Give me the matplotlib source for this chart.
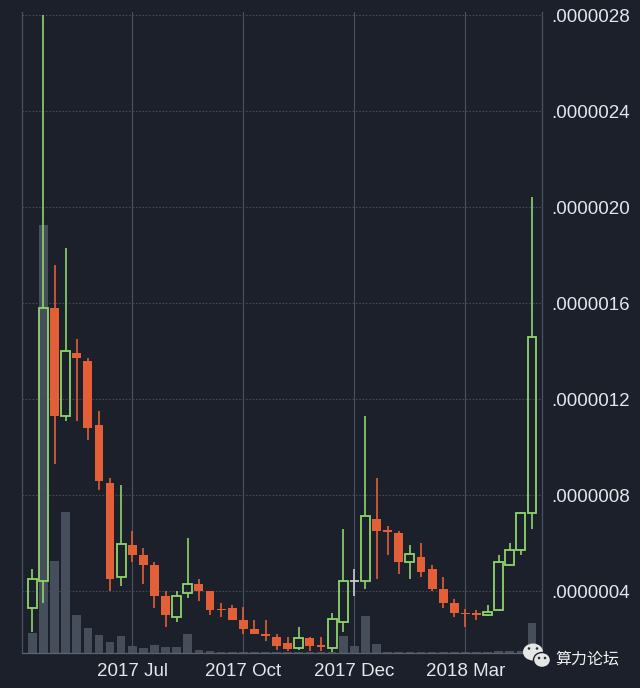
import matplotlib
matplotlib.use("Agg")
import matplotlib.pyplot as plt
from matplotlib.patches import Ellipse
import numpy as np

## price in units of 1e-7, weekly candles
opens  = [3.3, 4.4, 15.8, 11.3, 13.9, 13.6, 10.9, 8.5, 4.6, 5.9,
          5.5, 5.1, 3.8, 2.9, 3.9, 4.3, 4.0, 3.25, 3.3, 2.8,
          2.43, 2.2, 2.1, 1.82, 1.61, 2.03, 1.72, 1.61, 2.7, 4.42,
          4.4, 7.0, 6.55, 6.4, 5.2, 5.4, 4.9, 4.1, 3.5, 3.1,
          3.07, 3.0, 3.2, 5.08, 5.7, 7.24]
closes = [4.5, 15.8, 11.3, 14.0, 13.7, 10.8, 8.6, 4.5, 5.95, 5.5,
          5.1, 3.8, 3.0, 3.8, 4.3, 4.0, 3.2, 3.2, 2.8, 2.4,
          2.22, 2.13, 1.72, 1.57, 2.03, 1.72, 1.66, 2.82, 4.4, 4.42,
          7.13, 6.5, 6.47, 5.2, 5.53, 4.78, 4.1, 3.5, 3.1, 3.03,
          3.01, 3.12, 5.22, 5.7, 7.24, 14.6]
highs  = [4.9, 28.0, 17.6, 18.3, 14.5, 13.7, 11.5, 8.7, 8.4, 6.5,
          5.8, 5.2, 4.0, 4.0, 6.2, 4.5, 4.0, 3.5, 3.4, 3.35,
          2.8, 2.8, 2.2, 2.1, 2.5, 2.1, 2.1, 3.1, 6.6, 4.9,
          11.3, 8.7, 6.7, 6.5, 5.9, 6.0, 5.1, 4.6, 3.67, 3.25,
          3.2, 3.4, 5.5, 6.0, 7.3, 20.4]
lows   = [2.3, 3.5, 9.3, 11.1, 11.1, 10.3, 8.2, 4.0, 4.2, 5.2,
          4.3, 3.3, 2.5, 2.7, 3.7, 3.6, 3.0, 2.9, 2.8, 2.2,
          2.2, 1.93, 1.55, 1.5, 1.55, 1.5, 1.5, 1.47, 2.3, 3.8,
          4.1, 4.5, 5.5, 4.7, 4.5, 4.6, 4.0, 3.3, 2.9, 2.5,
          2.8, 2.95, 3.17, 5.05, 5.5, 6.6]
volumes = [20, 428, 92, 141, 38, 25, 18, 10.6, 17, 7,
           4.7, 7.8, 6.3, 5.7, 18.8, 3.5, 2, 1, 1, 1,
           1, 0.8, 0.8, 0.8, 0.8, 0.8, 0.8, 1, 16.8, 7.4,
           36.8, 8.8, 1.5, 1.5, 1.2, 1.2, 1, 1, 1, 1,
           1, 1, 2, 2, 2, 30]

month_pos    = [9, 19, 29, 39]
month_labels = ["2017 Jul", "2017 Oct", "2017 Dec", "2018 Mar"]
price_ticks  = [4, 8, 12, 16, 20, 24, 28]

##-----------------------------------------------------------------------------

bg      = "#1c202b"
green   = "#8fd46c"
red     = "#e35f38"
neutral = "#c9ccd2"
gridc   = "#434a59"
textc   = "#e4e6ea"

o = np.array(opens); c = np.array(closes)
h = np.array(highs); l = np.array(lows)
x = np.arange(len(o))

fig = plt.figure(figsize=(6.4, 6.88), dpi=100, facecolor=bg)
rect = [22/640, 1 - 653/688, 520/640, 641/688]
vax = fig.add_axes(rect)
ax = fig.add_axes(rect)

vax.set_facecolor(bg)
ax.patch.set_visible(False)

## volume
vax.bar(x, volumes, width=0.78, color="#474e5b", zorder=1)
vax.set_xlim(-0.93, 45.9)
vax.set_ylim(0, max(volumes) * 641 / 428)
vax.set_xticks([])
vax.set_yticks([])
for s in vax.spines.values():
    s.set_visible(False)

## candles
up = c > o
down = c < o
flat = c == o
body_lo = np.minimum(o, c)
body_hi = np.maximum(o, c)

for mask, col in [(up, green), (down, red), (flat, neutral)]:
    ax.vlines(x[mask], body_hi[mask], h[mask], color=col, lw=1.2, zorder=3)
    ax.vlines(x[mask], l[mask], body_lo[mask], color=col, lw=1.2, zorder=3)

ax.bar(x[up], (c - o)[up], bottom=o[up], width=0.8, facecolor="none",
       edgecolor=green, lw=1.3, zorder=4)
dh = np.maximum((o - c)[down], 0.07)
ax.bar(x[down], dh, bottom=c[down], width=0.8, color=red, lw=0, zorder=4)
ax.hlines(o[flat], x[flat] - 0.4, x[flat] + 0.4, color=neutral, lw=1.3, zorder=4)

ax.set_xlim(-0.93, 45.9)
ax.set_ylim((687 - 653) / 24, (687 - 12) / 24)

ax.yaxis.tick_right()
ax.set_yticks(price_ticks)
ax.set_yticklabels(["{:.7f}".format(v * 1e-7)[1:] for v in price_ticks])
ax.set_xticks(month_pos)
ax.set_xticklabels(month_labels)
ax.tick_params(axis="both", length=0, colors=textc, labelsize=13.5)
ax.tick_params(axis="y", pad=7)
ax.tick_params(axis="x", pad=7)
for lab in ax.get_xticklabels() + ax.get_yticklabels():
    lab.set_family("Liberation Sans")

ax.grid(axis="y", color=gridc, ls=(0, (1.5, 1.5)), lw=0.8, zorder=0)
ax.grid(axis="x", color="#4a5163", ls="-", lw=0.8, zorder=0)
ax.spines["top"].set_visible(False)
ax.spines["left"].set_color("#4a5163")
ax.spines["right"].set_color("#4a5163")
ax.spines["bottom"].set_color("#5c6372")
for s in ["left", "right", "bottom"]:
    ax.spines[s].set_linewidth(0.9)

## watermark
def px(xp, yp):
    return (xp / 640, 1 - yp / 688)

b1 = Ellipse(px(533, 652), 20/640, 17/688, transform=fig.transFigure,
             facecolor="#e6e6e6", edgecolor="none", zorder=10)
b2 = Ellipse(px(542, 660), 17/640, 15/688, transform=fig.transFigure,
             facecolor="#e6e6e6", edgecolor=bg, lw=1.0, zorder=11)
fig.patches.extend([b1, b2])
for ex, ey, z in [(529, 648.5, 10.5), (537, 648.5, 10.5), (539, 658, 12), (545, 658, 12)]:
    fig.patches.append(Ellipse(px(ex, ey), 2.6/640, 2.6/688, transform=fig.transFigure,
                               facecolor="#2a2e36", edgecolor="none", zorder=z))
fig.text(555/640, 1 - 659/688, "算力论坛", color="#f0f0f0", fontsize=11.5,
         family=["Noto Sans CJK SC", "DejaVu Sans"], va="center", ha="left")

fig.savefig("out.png", dpi=100, facecolor=bg)
